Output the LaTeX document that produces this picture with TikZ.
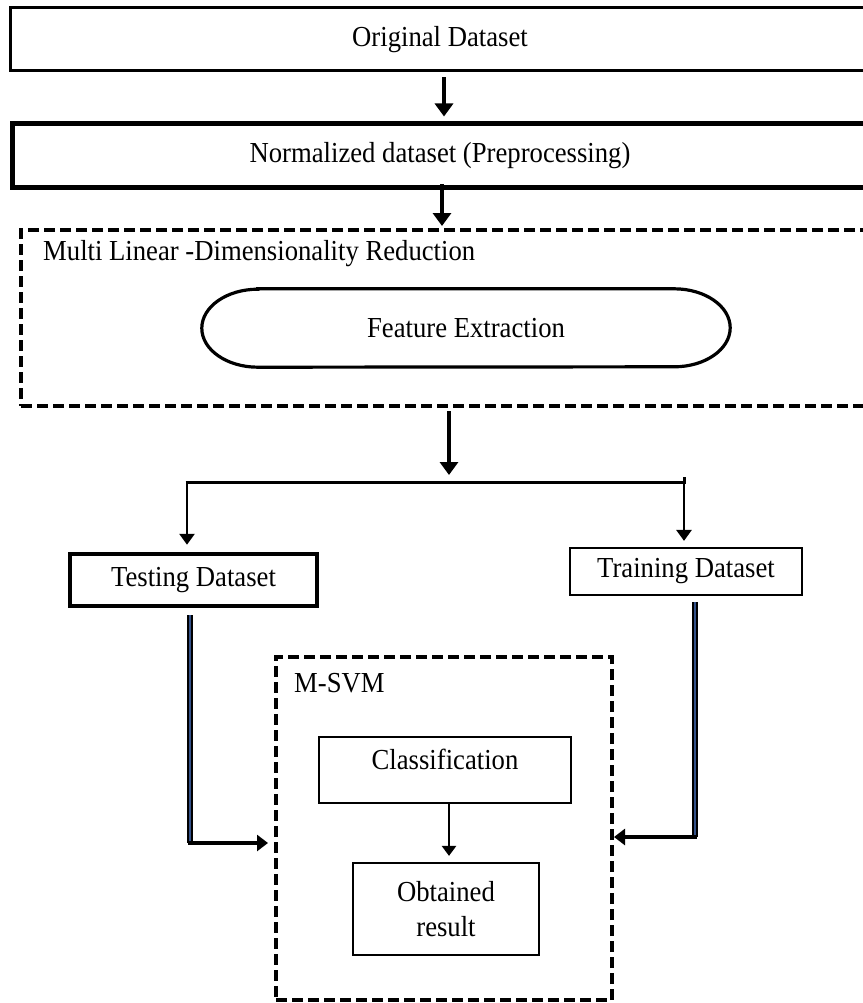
\documentclass[tikz,border=0pt]{standalone}
\usepackage{fontspec}
\setmainfont{Liberation Serif}[FakeStretch=0.92]
\usetikzlibrary{arrows.meta}
\definecolor{navyline}{RGB}{52,82,138}
\tikzset{
  txt/.style={font=\fontsize{29pt}{35pt}\selectfont, text=black},
  box/.style={draw=black, txt, inner sep=0pt, align=center},
  dashbox/.style={draw=black, line width=4pt, dash pattern=on 11pt off 5pt, inner sep=0pt},
  bigarr/.style={line width=4pt, -{Triangle[length=13pt,width=18pt]}},
  smallarr/.style={line width=2.8pt, -{Triangle[length=11pt,width=15pt]}},
  medarr/.style={line width=3.5pt, -{Triangle[length=11pt,width=16pt]}},
  thinarr/.style={line width=2.5pt, -{Triangle[length=10pt,width=14pt]}},
  bluedbl/.style={line width=1.3pt, double=navyline, double distance=2.8pt},
}
\begin{document}
\begin{tikzpicture}[x=1pt,y=1pt]
\useasboundingbox[fill=white] (0,0) rectangle (862,-1003);

% top boxes
\node[box, line width=3pt, minimum width=860pt, minimum height=63pt] (orig) at (440,-39.5) {Original Dataset};
\node[box, line width=5pt, minimum width=856pt, minimum height=64pt] (norm) at (440,-156) {Normalized dataset (Preprocessing)};

% dimensionality reduction group
\node[dashbox, minimum width=849pt, minimum height=176pt] (multi) at (445.5,-318) {};
\node[txt, anchor=west, inner sep=0pt] (multilbl) at (43,-254) {Multi Linear -Dimensionality Reduction};
\node[txt, inner sep=0pt, minimum width=528pt, minimum height=78pt] (feat) at (466,-328) {Feature Extraction};
\draw[line width=3.2pt] ([xshift=56pt]feat.north west) -- ([xshift=-56pt]feat.north east)
  arc[start angle=90, end angle=-90, x radius=56pt, y radius=39pt]
  -- ([xshift=56pt]feat.south west)
  arc[start angle=270, end angle=90, x radius=56pt, y radius=39pt] -- cycle;

% split
\node[box, line width=4.5pt, minimum width=247pt, minimum height=52pt] (test) at (193.5,-580) {Testing Dataset};
\node[box, line width=2.2pt, minimum width=232pt, minimum height=47pt] (train) at (686,-571.5) {Training Dataset};

% M-SVM group
\node[dashbox, minimum width=336pt, minimum height=343pt] (msvm) at (444,-828.5) {};
\node[txt, anchor=west, inner sep=0pt] (msvmlbl) at (294,-683) {M-SVM};
\node[box, line width=2.2pt, minimum width=252pt, text height=32pt, text depth=34pt] (cls) at (445,-770) {Classification};
\node[box, line width=2.2pt, minimum width=186pt, minimum height=92pt] (obt) at (446,-909) {Obtained\\result};

% connectors
\draw[bigarr, shorten <=5pt, shorten >=5pt] ([xshift=4pt]orig.south) -- ([xshift=4pt]norm.north);
\draw[bigarr, shorten >=2pt] ([xshift=2pt,yshift=6pt]norm.south) -- ([xshift=2pt]norm.south |- multi.north);

\coordinate (br) at (449,-482);
\coordinate (bl) at (187,-482);
\coordinate (brr) at (684,-482);
\draw[bigarr, shorten <=3pt, shorten >=7pt] (br |- multi.south) -- (br);
\draw[line width=3pt] ([xshift=-1.5pt]bl) -- (brr) -- ([yshift=5pt]brr);
\draw[smallarr, shorten >=7pt] (bl) -- (bl |- test.north);
\draw[smallarr, shorten >=6pt] (brr) -- (brr |- train.north);

\coordinate (lc) at (190,-843);
\coordinate (rc) at (695,-837);
\draw[bluedbl] ([yshift=-7pt]lc |- test.south) -- (lc);
\draw[medarr, shorten >=6pt] ([xshift=-2pt]lc) -- (lc -| msvm.west);
\draw[bluedbl] ([yshift=-6pt]rc |- train.south) -- (rc);
\draw[medarr, shorten >=0pt] ([xshift=2pt]rc) -- (rc -| msvm.east);

\draw[thinarr, shorten >=6pt] ([xshift=4pt]cls.south) -- ([xshift=3pt]obt.north);
\end{tikzpicture}
\end{document}
